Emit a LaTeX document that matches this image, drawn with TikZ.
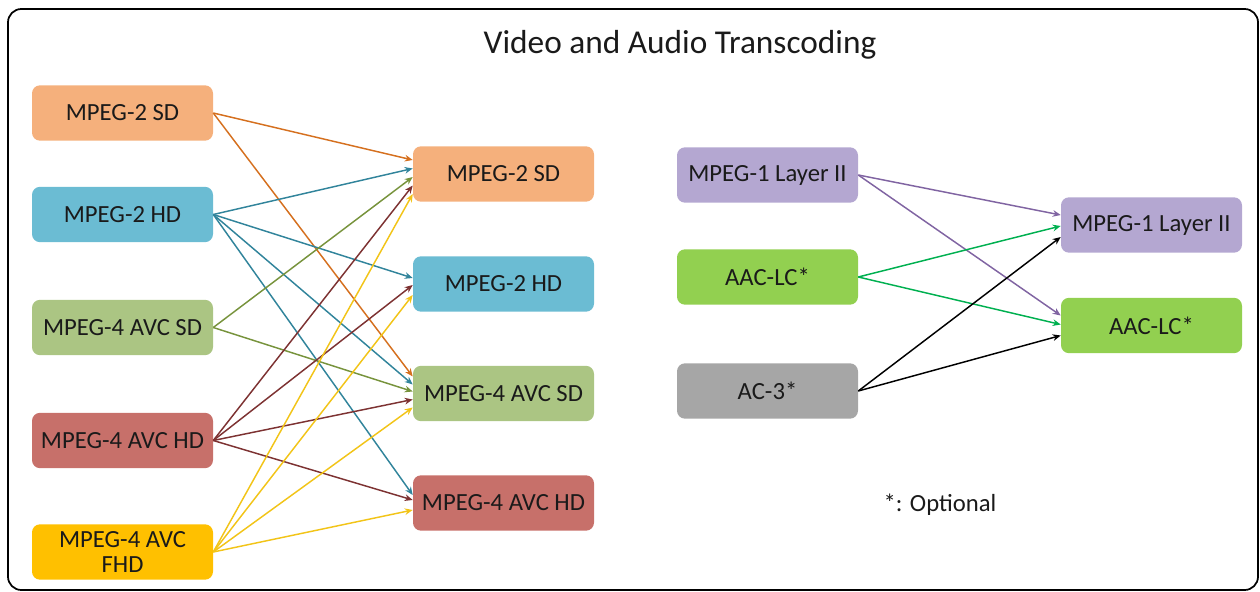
\documentclass[tikz,border=0pt]{standalone}
\usepackage{fontspec}
\setmainfont{Carlito}
\usetikzlibrary{arrows.meta,calc}
\definecolor{fOrange}{HTML}{F5B07C}
\definecolor{fBlue}{HTML}{6BBCD3}
\definecolor{fOlive}{HTML}{ABC583}
\definecolor{fRed}{HTML}{C7706A}
\definecolor{fGold}{HTML}{FFC000}
\definecolor{fPurple}{HTML}{B4A7D1}
\definecolor{fGreen}{HTML}{92D050}
\definecolor{fGray}{HTML}{A6A6A6}
\definecolor{aOrange}{HTML}{D5701F}
\definecolor{aBlue}{HTML}{31849B}
\definecolor{aOlive}{HTML}{77933C}
\definecolor{aRed}{HTML}{7D3232}
\definecolor{aGold}{HTML}{F2C418}
\definecolor{aPurple}{HTML}{8064A2}
\definecolor{aGreen}{HTML}{00B050}
\definecolor{txt}{HTML}{1A1A1A}
\tikzset{
  box/.style={rounded corners=6pt, minimum width=135.75pt, minimum height=41.5pt,
    inner sep=0pt, text=txt, font=\fontsize{18.5}{20}\selectfont, align=center},
  conn/.style={line width=1.1pt, -{Stealth[length=6pt,width=5pt]}}
}
\begin{document}
\begin{tikzpicture}[x=0.75pt,y=-0.75pt]
\useasboundingbox (0,0) rectangle (1260,592);
\draw[line width=1.3pt, rounded corners=10pt] (8,9) rectangle (1258,590);
\node[text=txt, font=\fontsize{25}{28}\selectfont] (title) at (680,45) {Video and Audio Transcoding};
% left column
\node[box, fill=fOrange] (L1) at (122.5,113) {MPEG-2 SD};
\node[box, fill=fBlue]   (L2) at (122.5,214.5) {MPEG-2 HD};
\node[box, fill=fOlive]  (L3) at (122.5,327.5) {MPEG-4 AVC SD};
\node[box, fill=fRed]    (L4) at (122.5,440.5) {MPEG-4 AVC HD};
\node[box, fill=fGold]   (L5) at (122.5,552) {MPEG-4 AVC\\[-1pt]FHD};
% middle column
\node[box, fill=fOrange] (T1) at (503.5,174) {MPEG-2 SD};
\node[box, fill=fBlue]   (T2) at (503.5,284) {MPEG-2 HD};
\node[box, fill=fOlive]  (T3) at (503.5,393.5) {MPEG-4 AVC SD};
\node[box, fill=fRed]    (T4) at (503.5,503) {MPEG-4 AVC HD};
% audio
\node[box, fill=fPurple] (S1) at (767.5,175) {MPEG-1 Layer II};
\node[box, fill=fGreen]  (S2) at (767.5,277) {AAC-LC*};
\node[box, fill=fGray]   (S3) at (767.5,391) {AC-3*};
\node[box, fill=fPurple] (A1) at (1151.5,225) {MPEG-1 Layer II};
\node[box, fill=fGreen]  (A2) at (1151.5,325.5) {AAC-LC*};
\node[text=txt, font=\fontsize{18.5}{20}\selectfont] (opt) at (940,505) {*: Optional};
% video connectors
\draw[conn, aOrange] (L1.east) -- ($(T1.west)+(0,-14)$);
\draw[conn, aOrange] (L1.east) -- ($(T3.west)+(0,-17)$);
\draw[conn, aBlue] (L2.east) -- ($(T1.west)+(0,-5.5)$);
\draw[conn, aBlue] (L2.east) -- ($(T2.west)+(0,-6)$);
\draw[conn, aBlue] (L2.east) -- ($(T3.west)+(0,-9)$);
\draw[conn, aBlue] (L2.east) -- ($(T4.west)+(0,-8)$);
\draw[conn, aOlive] (L3.east) -- ($(T1.west)+(0,3)$);
\draw[conn, aOlive] (L3.east) -- ($(T3.west)+(0,-2)$);
\draw[conn, aRed] (L4.east) -- ($(T1.west)+(0,11.5)$);
\draw[conn, aRed] (L4.east) -- ($(T2.west)+(0,1)$);
\draw[conn, aRed] (L4.east) -- ($(T3.west)+(0,6)$);
\draw[conn, aRed] (L4.east) -- ($(T4.west)+(0,-3)$);
\draw[conn, aGold] (L5.east) -- ($(T1.west)+(0,20)$);
\draw[conn, aGold] (L5.east) -- ($(T2.west)+(0,11)$);
\draw[conn, aGold] (L5.east) -- ($(T3.west)+(0,14)$);
\draw[conn, aGold] (L5.east) -- ($(T4.west)+(0,7)$);
% audio connectors
\draw[conn, aPurple] (S1.east) -- ($(A1.west)+(0,-10)$);
\draw[conn, aPurple] (S1.east) -- ($(A2.west)+(0,-10)$);
\draw[conn, aGreen] (S2.east) -- ($(A1.west)+(0,1)$);
\draw[conn, aGreen] (S2.east) -- ($(A2.west)+(0,-1)$);
\draw[conn, black] (S3.east) -- ($(A1.west)+(0,12)$);
\draw[conn, black] (S3.east) -- ($(A2.west)+(0,10)$);
\end{tikzpicture}
\end{document}
